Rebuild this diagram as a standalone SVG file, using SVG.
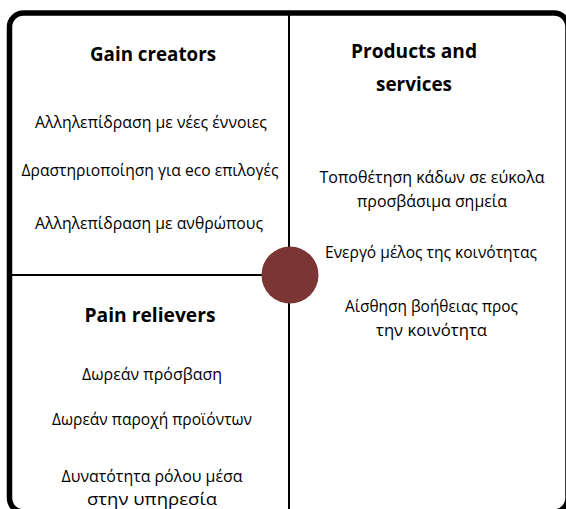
<svg xmlns="http://www.w3.org/2000/svg" width="566" height="509" viewBox="0 0 566 509">
<style>
.h{font-family:"Open Sans","Noto Sans",sans-serif;font-weight:700;font-size:20px;fill:#000;text-anchor:middle}
.t{font-family:"Open Sans","Noto Sans",sans-serif;font-size:17px;fill:#000;text-anchor:middle}
</style>
<rect width="566" height="509" fill="#fff"/>
<g id="frame">
<rect x="9.5" y="13" width="558.5" height="499" rx="14" fill="none" stroke="#000" stroke-width="5.5"/>
</g>
<g id="connectors" stroke="#000" stroke-width="2">
<line x1="289" y1="13" x2="289" y2="512"/>
<line x1="12" y1="275" x2="289" y2="275"/>
</g>
<g id="gain-creators">
<text class="h" x="153" y="61" textLength="126" lengthAdjust="spacingAndGlyphs">Gain creators</text>
<text class="t" x="151" y="128" textLength="232" lengthAdjust="spacingAndGlyphs">Αλληλεπίδραση με νέες έννοιες</text>
<text class="t" x="150" y="176" textLength="257" lengthAdjust="spacingAndGlyphs">Δραστηριοποίηση για eco επιλογές</text>
<text class="t" x="149" y="229" textLength="228" lengthAdjust="spacingAndGlyphs">Αλληλεπίδραση με ανθρώπους</text>
</g>
<g id="products-services">
<text class="h" x="414" y="58" textLength="126" lengthAdjust="spacingAndGlyphs">Products and</text>
<text class="h" x="414" y="91" textLength="76" lengthAdjust="spacingAndGlyphs">services</text>
<text class="t" x="432" y="183" textLength="225" lengthAdjust="spacingAndGlyphs">Τοποθέτηση κάδων σε εύκολα</text>
<text class="t" x="432" y="207" textLength="150" lengthAdjust="spacingAndGlyphs">προσβάσιμα σημεία</text>
<text class="t" x="431" y="258" textLength="212" lengthAdjust="spacingAndGlyphs">Ενεργό μέλος της κοινότητας</text>
<text class="t" x="431.5" y="312" textLength="173" lengthAdjust="spacingAndGlyphs">Αίσθηση βοήθειας προς</text>
<text class="t" x="431.5" y="336" textLength="111" lengthAdjust="spacingAndGlyphs">την κοινότητα</text>
</g>
<g id="pain-relievers">
<text class="h" x="150" y="322" textLength="131" lengthAdjust="spacingAndGlyphs">Pain relievers</text>
<text class="t" x="152" y="380" textLength="140" lengthAdjust="spacingAndGlyphs">Δωρεάν πρόσβαση</text>
<text class="t" x="152" y="425" textLength="200" lengthAdjust="spacingAndGlyphs">Δωρεάν παροχή προϊόντων</text>
<text class="t" x="152" y="482" textLength="181" lengthAdjust="spacingAndGlyphs">Δυνατότητα ρόλου μέσα</text>
<text class="t" x="152" y="505" textLength="130" lengthAdjust="spacingAndGlyphs">στην υπηρεσία</text>
</g>
<g id="center">
<circle cx="290" cy="275" r="28.5" fill="#7b3535"/>
</g>
</svg>
